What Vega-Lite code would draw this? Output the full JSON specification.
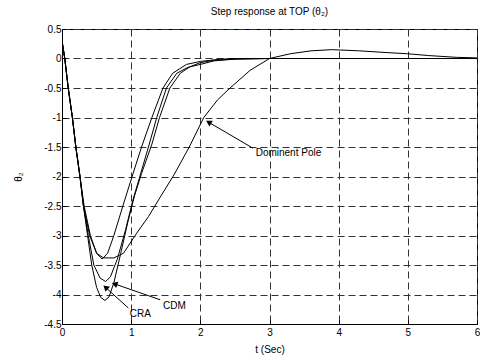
{
  "$schema": "https://vega.github.io/schema/vega-lite/v6.json",
  "width": 415,
  "height": 295,
  "autosize": {"type": "none"},
  "padding": {"left": 62, "top": 29, "right": 3, "bottom": 35},
  "background": "white",
  "title": {"text": "Step response at TOP (θ₂)", "fontSize": 10, "font": "Liberation Sans", "fontWeight": "normal", "color": "black", "offset": 7, "anchor": "middle"},
  "config": {
    "view": {"stroke": "black", "strokeWidth": 1},
    "axis": {
      "labelFont": "Liberation Sans", "labelFontSize": 10, "labelColor": "black",
      "titleFont": "Liberation Sans", "titleFontSize": 10, "titleFontWeight": "normal", "titleColor": "black",
      "domainColor": "black", "tickColor": "black", "tickSize": -4,
      "labelOverlap": false, "labelFlush": false,
      "grid": true, "gridColor": "#333333", "gridDash": [7, 4], "gridOpacity": 1, "gridWidth": 1
    }
  },
  "datasets": {
    "curves": [
      {"series": "CRA", "t": 0, "v": 0.3},
      {"series": "CRA", "t": 0.04, "v": 0.0},
      {"series": "CRA", "t": 0.09, "v": -0.5},
      {"series": "CRA", "t": 0.15, "v": -1.0},
      {"series": "CRA", "t": 0.2, "v": -1.5},
      {"series": "CRA", "t": 0.26, "v": -2.0},
      {"series": "CRA", "t": 0.31, "v": -2.5},
      {"series": "CRA", "t": 0.37, "v": -3.0},
      {"series": "CRA", "t": 0.43, "v": -3.5},
      {"series": "CRA", "t": 0.5, "v": -3.88},
      {"series": "CRA", "t": 0.56, "v": -4.05},
      {"series": "CRA", "t": 0.62, "v": -4.1},
      {"series": "CRA", "t": 0.68, "v": -4.04},
      {"series": "CRA", "t": 0.75, "v": -3.8},
      {"series": "CRA", "t": 0.85, "v": -3.3},
      {"series": "CRA", "t": 0.95, "v": -2.78},
      {"series": "CRA", "t": 1.05, "v": -2.32},
      {"series": "CRA", "t": 1.15, "v": -1.95},
      {"series": "CRA", "t": 1.3, "v": -1.45},
      {"series": "CRA", "t": 1.41, "v": -1.0},
      {"series": "CRA", "t": 1.56, "v": -0.5},
      {"series": "CRA", "t": 1.71, "v": -0.25},
      {"series": "CRA", "t": 1.85, "v": -0.14},
      {"series": "CRA", "t": 2.0, "v": -0.07},
      {"series": "CRA", "t": 2.2, "v": -0.03},
      {"series": "CRA", "t": 2.5, "v": -0.01},
      {"series": "CRA", "t": 3.0, "v": 0.0},
      {"series": "CRA", "t": 6.0, "v": 0.0},
      {"series": "CDM", "t": 0, "v": 0.3},
      {"series": "CDM", "t": 0.04, "v": 0.0},
      {"series": "CDM", "t": 0.09, "v": -0.5},
      {"series": "CDM", "t": 0.15, "v": -1.0},
      {"series": "CDM", "t": 0.2, "v": -1.5},
      {"series": "CDM", "t": 0.26, "v": -2.0},
      {"series": "CDM", "t": 0.31, "v": -2.5},
      {"series": "CDM", "t": 0.38, "v": -3.0},
      {"series": "CDM", "t": 0.46, "v": -3.5},
      {"series": "CDM", "t": 0.55, "v": -3.72},
      {"series": "CDM", "t": 0.63, "v": -3.78},
      {"series": "CDM", "t": 0.7, "v": -3.7},
      {"series": "CDM", "t": 0.8, "v": -3.4},
      {"series": "CDM", "t": 0.92, "v": -2.9},
      {"series": "CDM", "t": 1.02, "v": -2.42},
      {"series": "CDM", "t": 1.12, "v": -2.02},
      {"series": "CDM", "t": 1.25, "v": -1.5},
      {"series": "CDM", "t": 1.37, "v": -1.0},
      {"series": "CDM", "t": 1.51, "v": -0.5},
      {"series": "CDM", "t": 1.66, "v": -0.25},
      {"series": "CDM", "t": 1.82, "v": -0.15},
      {"series": "CDM", "t": 2.0, "v": -0.1},
      {"series": "CDM", "t": 2.2, "v": -0.04},
      {"series": "CDM", "t": 2.5, "v": -0.01},
      {"series": "CDM", "t": 3.0, "v": 0.0},
      {"series": "CDM", "t": 6.0, "v": 0.0},
      {"series": "Other", "t": 0, "v": 0.3},
      {"series": "Other", "t": 0.04, "v": 0.0},
      {"series": "Other", "t": 0.09, "v": -0.5},
      {"series": "Other", "t": 0.15, "v": -1.0},
      {"series": "Other", "t": 0.2, "v": -1.5},
      {"series": "Other", "t": 0.26, "v": -2.0},
      {"series": "Other", "t": 0.31, "v": -2.5},
      {"series": "Other", "t": 0.4, "v": -3.0},
      {"series": "Other", "t": 0.5, "v": -3.3},
      {"series": "Other", "t": 0.58, "v": -3.4},
      {"series": "Other", "t": 0.66, "v": -3.3},
      {"series": "Other", "t": 0.75, "v": -3.0},
      {"series": "Other", "t": 0.88, "v": -2.5},
      {"series": "Other", "t": 1.0, "v": -2.05},
      {"series": "Other", "t": 1.15, "v": -1.5},
      {"series": "Other", "t": 1.3, "v": -1.0},
      {"series": "Other", "t": 1.46, "v": -0.5},
      {"series": "Other", "t": 1.6, "v": -0.25},
      {"series": "Other", "t": 1.8, "v": -0.1},
      {"series": "Other", "t": 2.0, "v": -0.05},
      {"series": "Other", "t": 2.3, "v": -0.01},
      {"series": "Other", "t": 2.6, "v": 0.0},
      {"series": "Other", "t": 6.0, "v": 0.0},
      {"series": "Dominent Pole", "t": 0, "v": 0.3},
      {"series": "Dominent Pole", "t": 0.04, "v": 0.0},
      {"series": "Dominent Pole", "t": 0.09, "v": -0.5},
      {"series": "Dominent Pole", "t": 0.15, "v": -1.0},
      {"series": "Dominent Pole", "t": 0.2, "v": -1.5},
      {"series": "Dominent Pole", "t": 0.26, "v": -2.0},
      {"series": "Dominent Pole", "t": 0.32, "v": -2.5},
      {"series": "Dominent Pole", "t": 0.41, "v": -3.0},
      {"series": "Dominent Pole", "t": 0.5, "v": -3.3},
      {"series": "Dominent Pole", "t": 0.6, "v": -3.38},
      {"series": "Dominent Pole", "t": 0.75, "v": -3.38},
      {"series": "Dominent Pole", "t": 0.89, "v": -3.3},
      {"series": "Dominent Pole", "t": 1.08, "v": -2.96},
      {"series": "Dominent Pole", "t": 1.25, "v": -2.68},
      {"series": "Dominent Pole", "t": 1.42, "v": -2.35},
      {"series": "Dominent Pole", "t": 1.62, "v": -1.97},
      {"series": "Dominent Pole", "t": 1.84, "v": -1.5},
      {"series": "Dominent Pole", "t": 2.05, "v": -1.0},
      {"series": "Dominent Pole", "t": 2.25, "v": -0.7},
      {"series": "Dominent Pole", "t": 2.43, "v": -0.5},
      {"series": "Dominent Pole", "t": 2.72, "v": -0.2},
      {"series": "Dominent Pole", "t": 3.0, "v": 0.0},
      {"series": "Dominent Pole", "t": 3.3, "v": 0.08},
      {"series": "Dominent Pole", "t": 3.6, "v": 0.13},
      {"series": "Dominent Pole", "t": 3.9, "v": 0.15},
      {"series": "Dominent Pole", "t": 4.3, "v": 0.13},
      {"series": "Dominent Pole", "t": 4.7, "v": 0.1},
      {"series": "Dominent Pole", "t": 5.0, "v": 0.08},
      {"series": "Dominent Pole", "t": 5.3, "v": 0.05},
      {"series": "Dominent Pole", "t": 5.7, "v": 0.02},
      {"series": "Dominent Pole", "t": 6.0, "v": 0.01}
    ],
    "labels": [
      {"label": "Dominent Pole", "t": 2.8, "v": -1.61},
      {"label": "CDM", "t": 1.46, "v": -4.2},
      {"label": "CRA", "t": 0.98, "v": -4.33}
    ],
    "arrows": [
      {"name": "DP", "t": 2.76, "v": -1.52, "t2": 2.12, "v2": -1.08},
      {"name": "CDM", "t": 1.42, "v": -4.09, "t2": 0.76, "v2": -3.82},
      {"name": "CRA", "t": 0.96, "v": -4.23, "t2": 0.63, "v2": -3.88}
    ]
  },
  "layer": [
    {
      "data": {"name": "curves"},
      "mark": {"type": "line", "color": "black", "strokeWidth": 1, "clip": true},
      "encoding": {
        "x": {"field": "t", "type": "quantitative", "scale": {"domain": [0, 6], "nice": false}, "axis": {"title": "t (Sec)", "values": [0, 1, 2, 3, 4, 5, 6], "tickCount": 20, "labelExpr": "datum.value + ''", "titlePadding": 7, "labelPadding": 7}},
        "y": {"field": "v", "type": "quantitative", "scale": {"domain": [-4.5, 0.5], "nice": false}, "axis": {"title": "θ₂", "values": [0.5, 0, -0.5, -1, -1.5, -2, -2.5, -3, -3.5, -4, -4.5], "tickCount": 30, "labelExpr": "datum.value + ''", "titlePadding": 20, "labelPadding": 5}},
        "detail": {"field": "series"}
      }
    },
    {
      "data": {"name": "arrows"},
      "mark": {"type": "rule", "color": "black", "strokeWidth": 1},
      "encoding": {
        "x": {"field": "t", "type": "quantitative"},
        "y": {"field": "v", "type": "quantitative"},
        "x2": {"field": "t2"},
        "y2": {"field": "v2"}
      }
    },
    {
      "data": {"name": "arrows"},
      "transform": [{"filter": "datum.name == 'DP'"}],
      "mark": {"type": "point", "shape": "triangle-up", "filled": true, "color": "black", "size": 45, "angle": 300, "opacity": 1},
      "encoding": {"x": {"field": "t2", "type": "quantitative"}, "y": {"field": "v2", "type": "quantitative"}}
    },
    {
      "data": {"name": "arrows"},
      "transform": [{"filter": "datum.name == 'CDM'"}],
      "mark": {"type": "point", "shape": "triangle-up", "filled": true, "color": "black", "size": 45, "angle": 290, "opacity": 1},
      "encoding": {"x": {"field": "t2", "type": "quantitative"}, "y": {"field": "v2", "type": "quantitative"}}
    },
    {
      "data": {"name": "arrows"},
      "transform": [{"filter": "datum.name == 'CRA'"}],
      "mark": {"type": "point", "shape": "triangle-up", "filled": true, "color": "black", "size": 45, "angle": 312, "opacity": 1},
      "encoding": {"x": {"field": "t2", "type": "quantitative"}, "y": {"field": "v2", "type": "quantitative"}}
    },
    {
      "data": {"name": "labels"},
      "mark": {"type": "text", "align": "left", "baseline": "middle", "font": "Liberation Sans", "fontSize": 10, "color": "black"},
      "encoding": {
        "x": {"field": "t", "type": "quantitative"},
        "y": {"field": "v", "type": "quantitative"},
        "text": {"field": "label"}
      }
    }
  ]
}
